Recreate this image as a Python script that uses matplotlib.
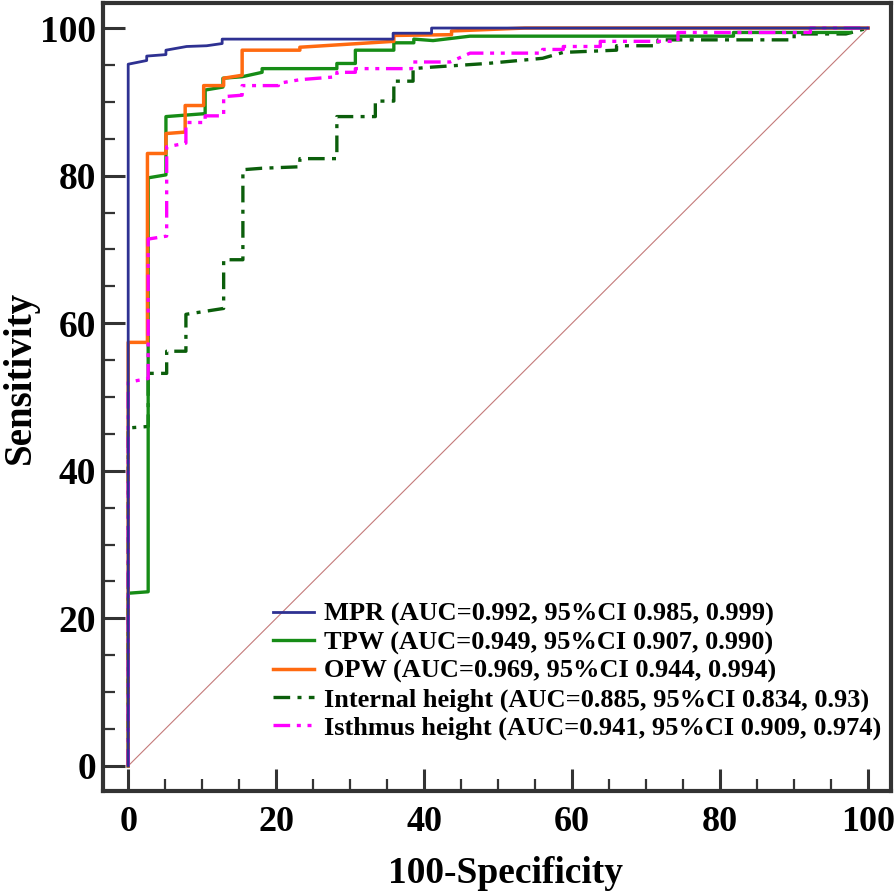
import matplotlib
matplotlib.use("Agg")
import matplotlib.pyplot as plt
from matplotlib.ticker import MultipleLocator

# ---- data ----
mpr_x = [0, 0, 2.5, 2.5, 5.1, 5.1, 7.9, 10.6, 12.7, 12.7, 35.8, 35.8, 41.0, 41.0, 100]
mpr_y = [0, 95.1, 95.6, 96.2, 96.4, 97.0, 97.5, 97.6, 97.9, 98.5, 98.5, 99.3, 99.3, 100, 100]

tpw_x = [0, 0, 2.7, 2.7, 5.1, 5.1, 10.4, 10.4, 12.8, 12.8, 15.4, 18.1, 18.1, 28.2, 28.2,
         30.7, 30.7, 35.9, 35.9, 38.6, 38.6, 41.2, 46.2, 81.8, 81.8, 97.6]
tpw_y = [0, 23.4, 23.6, 79.7, 80.1, 88.0, 88.4, 91.6, 92.0, 93.2, 93.4, 94.0, 94.5, 94.5, 95.2,
         95.2, 97.0, 97.0, 98.0, 98.0, 98.5, 98.3, 98.9, 98.9, 99.4, 99.4]

opw_x = [0, 0, 2.6, 2.6, 5.1, 5.1, 7.7, 7.7, 10.2, 10.2, 12.9, 12.9, 15.4, 15.4, 23.2, 23.2,
         35.9, 35.9, 43.7, 43.7, 53.6, 100]
opw_y = [0, 57.4, 57.4, 83.0, 83.0, 85.7, 85.9, 89.5, 89.5, 92.2, 92.2, 93.2, 93.6, 97.0, 97.0, 97.4,
         98.2, 99.0, 99.1, 99.6, 100, 100]

int_x = [0, 0, 2.7, 2.7, 5.2, 5.2, 7.8, 7.8, 12.9, 12.9, 15.5, 15.5, 18.1, 23.2, 23.2, 28.2, 28.2,
         33.4, 33.4, 35.9, 35.9, 38.5, 38.5, 41.0, 48.5, 56.0, 58.8, 66.0, 66.0, 71.6, 71.6,
         90.0, 90.0, 97.0, 100]
int_y = [0, 45.8, 46.0, 53.2, 53.2, 56.2, 56.2, 61.2, 62.0, 68.6, 68.6, 80.8, 81.0, 81.2, 82.3, 82.3, 88.0,
         88.0, 90.1, 90.1, 92.8, 92.8, 94.5, 94.7, 95.2, 95.9, 96.7, 97.0, 97.6, 97.6, 98.4,
         98.4, 99.2, 99.2, 100]

ist_x = [0, 0, 2.7, 2.7, 5.2, 5.2, 7.8, 7.8, 10.4, 10.4, 12.9, 12.9, 15.4, 15.4, 20.3, 20.3, 23.2,
         28.2, 28.2, 30.7, 30.7, 38.3, 38.3, 43.5, 46.2, 56.0, 56.0, 58.8, 58.8, 63.8, 63.8,
         74.3, 74.3, 92.2, 92.2, 100]
ist_y = [0, 52.0, 52.5, 71.4, 71.8, 83.9, 84.4, 87.2, 87.2, 88.1, 88.1, 90.7, 90.9, 92.2, 92.2, 92.5, 93.0,
         93.4, 94.0, 94.0, 94.5, 94.5, 95.4, 95.4, 96.6, 96.6, 97.1, 97.1, 97.5, 97.5, 98.2,
         98.2, 99.4, 99.4, 100, 100]

labels = [
    "MPR (AUC=0.992, 95%CI 0.985, 0.999)",
    "TPW (AUC=0.949, 95%CI 0.907, 0.990)",
    "OPW (AUC=0.969, 95%CI 0.944, 0.994)",
    "Internal height (AUC=0.885, 95%CI 0.834, 0.93)",
    "Isthmus height (AUC=0.941, 95%CI 0.909, 0.974)",
]
x_ticks = [0, 20, 40, 60, 80, 100]
y_ticks = [0, 20, 40, 60, 80, 100]

plt.rcParams['font.family'] = ['Liberation Serif', 'DejaVu Serif']
plt.rcParams['font.weight'] = 'bold'

fig = plt.figure(figsize=(8.96, 8.96), dpi=100)
ax = fig.add_axes([0.115, 0.1172, 0.8795, 0.8795])

ax.plot([0, 100], [0, 100], color='#c47a7a', lw=0.8, zorder=1)

ax.plot(mpr_x, mpr_y, color='#2e3192', lw=2.0, label=labels[0], zorder=6)
ax.plot(tpw_x, tpw_y, color='#168c16', lw=2.4, label=labels[1], zorder=3)
ax.plot(opw_x, opw_y, color='#ff6a10', lw=2.5, label=labels[2], zorder=4)
ax.plot(int_x, int_y, color='#0b5e0b', lw=2.4, dashes=(5, 2.2, 1.2, 2.2), label=labels[3], zorder=2)
ax.plot(ist_x, ist_y, color='#ff00ff', lw=2.4, dashes=(5, 2, 1.2, 2, 1.2, 2), label=labels[4], zorder=5)

ax.set_xlim(-3.4, 103.1)
ax.set_ylim(-3.4, 103.4)
ax.set_xticks(x_ticks)
ax.set_yticks(y_ticks)
ax.xaxis.set_minor_locator(MultipleLocator(5))
ax.yaxis.set_minor_locator(MultipleLocator(5))

for s in ax.spines.values():
    s.set_linewidth(3)
    s.set_color('#333333')

ax.tick_params(which='major', direction='in', length=16, width=2.2, color='#333333',
               top=False, right=False)
ax.tick_params(which='minor', direction='in', length=8.5, width=1.6, color='#333333',
               top=False, right=False)
ax.tick_params(axis='x', which='major', labelsize=26, pad=11)
ax.tick_params(axis='y', which='major', labelsize=27, pad=5)
for lab in ax.get_xticklabels() + ax.get_yticklabels():
    lab.set_fontweight('bold')

ax.set_xlabel("100-Specificity", fontsize=27, fontweight='bold', labelpad=12)
ax.set_ylabel("Sensitivity", fontsize=28, fontweight='bold', labelpad=1)
ax.xaxis.label.set_x(0.511)
ax.yaxis.label.set_y(0.525)

leg = ax.legend(loc='lower left', bbox_to_anchor=(0.209, 0.058), frameon=False,
                prop={'size': 19, 'weight': 'bold', 'family': 'Liberation Serif'},
                handlelength=1.55, handletextpad=0.4, labelspacing=0.17,
                borderpad=0.2, borderaxespad=0)

fig.savefig("out.png", dpi=100, facecolor='white')
